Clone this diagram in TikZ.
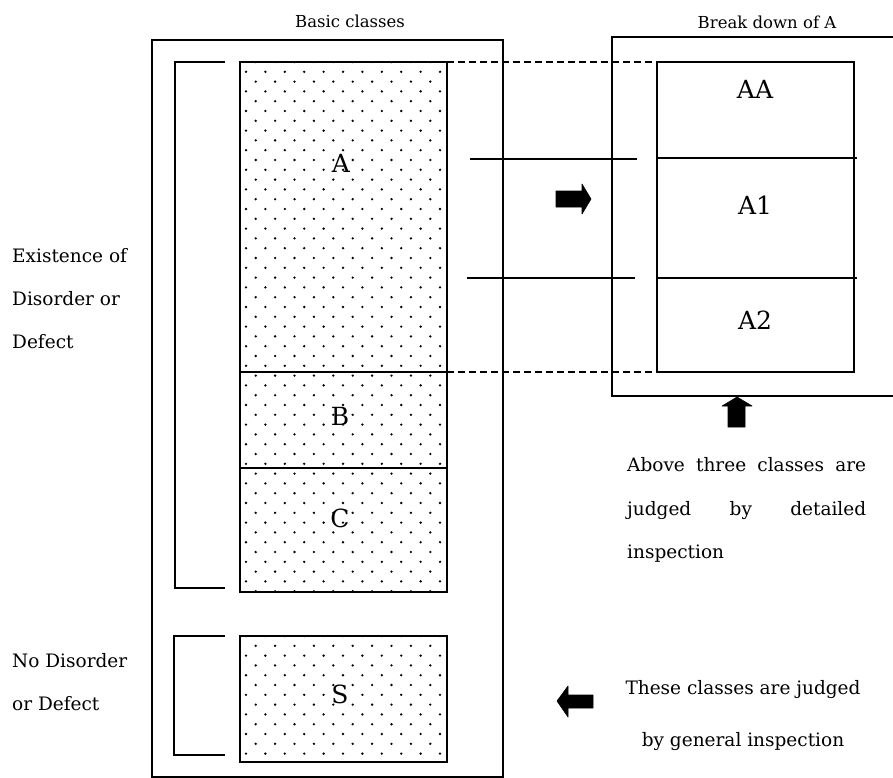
\documentclass[tikz,border=0pt]{standalone}
\usepackage{fontspec}
\setmainfont{DejaVu Serif}
\begin{document}
\begin{tikzpicture}[x=1pt,y=-1pt,
  ln/.style={line width=1.6pt},
  dashln/.style={line width=1.3pt, dash pattern=on 7pt off 4pt},
  body/.style={font=\fontsize{18.5}{22}\selectfont, inner sep=0pt},
  head/.style={font=\fontsize{16.5}{20}\selectfont, inner sep=0pt},
  cls/.style={font=\fontsize{25}{30}\selectfont, inner sep=0pt},
  arr/.style={fill=black, draw=black, line width=0.6pt, line join=round}]
\fill[white] (0,0) rectangle (893,778);
\useasboundingbox (0,0) rectangle (893,778);

% dots
\begin{scope}
  \clip (240,62) rectangle (447,592);
  \foreach \k in {0,...,54}{
    \pgfmathsetmacro\yy{62+\k*9.8}
    \pgfmathsetmacro\xo{246+mod(\k+1,2)*9.7}
    \foreach \j in {0,...,10}{ \fill (\xo+\j*19.4,\yy) circle (1.3pt); }
  }
\end{scope}
\begin{scope}
  \clip (240,636) rectangle (447,762);
  \foreach \k in {0,...,13}{
    \pgfmathsetmacro\yy{636+\k*9.8}
    \pgfmathsetmacro\xo{246+mod(\k,2)*9.7}
    \foreach \j in {0,...,10}{ \fill (\xo+\j*19.4,\yy) circle (1.3pt); }
  }
\end{scope}

% coordinates
\coordinate (aNE) at (447,62);
\coordinate (aSE) at (447,372);
\coordinate (bdNW) at (657,62);
\coordinate (bdSW) at (657,372);
\coordinate (h1a) at (470,159);
\coordinate (h1b) at (637,159);
\coordinate (h2a) at (467,278);
\coordinate (h2b) at (635,278);

% outer boxes
\draw[ln] (152,40) rectangle (503,777);
\draw[ln] (893,37) -- (612,37) -- (612,396) -- (893,396);

% brackets
\draw[ln] (225,62) -- (175,62) -- (175,588) -- (225,588);
\draw[ln] (225,636) -- (174,636) -- (174,755) -- (225,755);

% class boxes
\draw[ln] (240,62) rectangle (447,592);
\draw[ln] (240,372) -- (447,372);
\draw[ln] (240,468) -- (447,468);
\draw[ln] (240,636) rectangle (447,762);

% breakdown box
\draw[ln] (657,62) rectangle (854,372);
\draw[ln] (657,158) -- (857,158);
\draw[ln] (657,278) -- (857,278);

% connectors
\draw[dashln] (aNE) -- (bdNW);
\draw[dashln] (aSE) -- (bdSW);
\draw[ln] (h1a) -- (h1b);
\draw[ln] (h2a) -- (h2b);

% arrows
\filldraw[arr] (556,191) -- (582,191) -- (582,184) -- (591,199) -- (582,214) -- (582,207) -- (556,207) -- cycle;
\filldraw[arr] (728,427) -- (728,406) -- (722,406) -- (737,397) -- (752,406) -- (745,406) -- (745,427) -- cycle;
\filldraw[arr] (593,695) -- (568,695) -- (568,686) -- (557,701) -- (568,717) -- (568,708) -- (593,708) -- cycle;

% headers
\node[head] (bc) at (350,21) {Basic classes};
\node[head] (bd) at (767,22) {Break down of A};

% class labels
\node[cls] (lA) at (341,163) {A};
\node[cls] (lB) at (340,416) {B};
\node[cls] (lC) at (340,518) {C};
\node[cls] (lS) at (340,694) {S};
\node[cls] (lAA) at (755,89) {AA};
\node[cls] (lA1) at (755,205) {A1};
\node[cls] (lA2) at (755,320) {A2};

% left texts
\node[body, anchor=base west] (t1) at (12,262) {Existence of};
\node[body, anchor=base west] (t2) at (12,305) {Disorder or};
\node[body, anchor=base west] (t3) at (12,348) {Defect};
\node[body, anchor=base west] (t4) at (12,667) {No Disorder};
\node[body, anchor=base west] (t5) at (12,710) {or Defect};

% right texts
\node[body, anchor=base west] (r1) at (627,471) {\makebox[239pt][s]{Above three classes are}};
\node[body, anchor=base west] (r2) at (627,515) {\makebox[239pt][s]{judged by detailed}};
\node[body, anchor=base west] (r3) at (627,558) {inspection};
\node[body, anchor=base] (r4) at (743,694) {These classes are judged};
\node[body, anchor=base] (r5) at (743,746) {by general inspection};
\end{tikzpicture}
\end{document}
